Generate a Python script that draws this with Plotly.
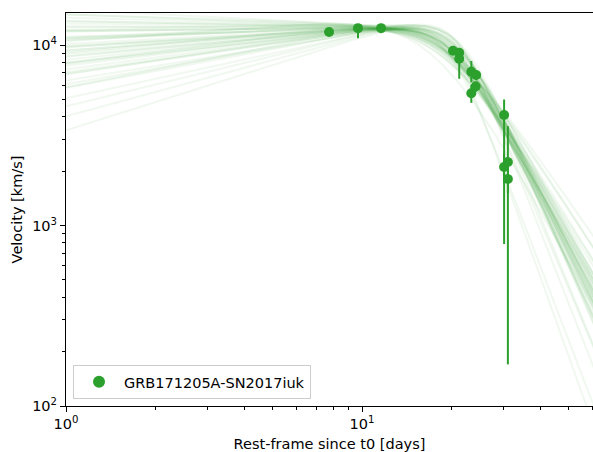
import numpy as np
import plotly.graph_objects as go

GREEN = "#2ca02c"

# Observed line velocities (rest-frame days since t0, km/s) with asymmetric errors
days = [7.74, 9.69, 11.6, 20.3, 21.3, 21.3, 23.4, 24.3, 24.2, 23.4, 30.2, 31.1, 30.2, 31.1]
velocity = [11800, 12400, 12400, 9300, 9050, 8400, 7110, 6820, 5890, 5400, 4090, 2250, 2110, 1810]
err_low = [300, 1500, 300, 300, 300, 1900, 900, 400, 400, 620, 3300, 2080, 400, 300]
err_high = [300, 400, 300, 300, 300, 300, 1050, 400, 400, 600, 900, 1300, 400, 300]

# Posterior draws of a smoothly broken power law:
#   v(t) = A (t/tb)^a1 [1 + (t/tb)^s]^(-(a1+a2)/s), normalised so v(12 d) = v12
draw_a1 = [-0.08, -0.06, -0.05, -0.04, -0.03, -0.02, 0.00, 0.01, 0.02, 0.03,
           0.04, 0.05, 0.06, 0.07, 0.08, 0.09, 0.10, 0.11, 0.12, 0.13,
           0.14, 0.15, 0.16, 0.17, 0.18, 0.19, 0.20, 0.21, 0.22, 0.23,
           0.24, 0.25, 0.27, 0.29, 0.31, 0.33, 0.36, 0.40, 0.45, 0.52,
           0.02, 0.10, 0.15, -0.01, 0.08, 0.12]
draw_a2 = [3.0, 3.3, 2.9, 3.5, 3.1, 2.8, 3.2, 3.6, 3.0, 3.4,
           2.7, 3.2, 3.9, 3.1, 2.6, 3.3, 3.0, 4.0, 3.2, 2.9,
           3.5, 3.1, 2.8, 3.4, 3.0, 4.2, 3.2, 2.7, 3.3, 3.0,
           3.7, 3.1, 2.9, 3.4, 3.2, 2.6, 3.0, 3.5, 3.1, 3.3,
           4.6, 4.3, 2.4, 2.5, 3.8, 3.0]
draw_tb = [20, 20.5, 19.5, 21, 20, 19, 20, 21.5, 19.5, 20.5,
           19, 20, 21, 20, 18.5, 20.5, 19.5, 21.5, 20, 19.5,
           20.5, 20, 19, 21, 20, 21, 20, 19, 20.5, 19.5,
           21, 20, 19.5, 20.5, 20, 19, 20, 20.5, 20, 20,
           20, 19.5, 19, 19.5, 22, 17.5]
draw_s = [6, 6, 5, 7, 6, 5, 6, 8, 6, 6,
          4, 7, 8, 5, 4, 6, 6, 9, 6, 5,
          7, 6, 5, 7, 6, 10, 6, 4, 6, 6,
          8, 5, 6, 7, 6, 4, 6, 7, 6, 6,
          10, 8, 4, 5, 8, 4]
draw_v12 = [12600, 12500, 12400, 12700, 12300, 12200, 12400, 12800, 12300, 12500,
            12100, 12400, 12600, 12200, 12000, 12400, 12300, 12700, 12300, 12200,
            12500, 12300, 12100, 12500, 12200, 12600, 12300, 12000, 12400, 12200,
            12500, 12200, 12100, 12300, 12200, 11900, 12100, 12200, 12000, 11900,
            12500, 12400, 12000, 12300, 12900, 12100]


def broken_power_law(t, a1, a2, tb, s):
    r = t / tb
    return r ** a1 * (1.0 + r ** s) ** (-(a1 + a2) / s)


t_grid = np.logspace(0, np.log10(65), 300)

fig = go.Figure()

for a1, a2, tb, s, v12 in zip(draw_a1, draw_a2, draw_tb, draw_s, draw_v12):
    amp = v12 / broken_power_law(12.0, a1, a2, tb, s)
    fig.add_trace(go.Scatter(
        x=t_grid, y=amp * broken_power_law(t_grid, a1, a2, tb, s),
        mode="lines", line=dict(color="rgba(44,160,44,0.07)", width=2),
        showlegend=False, hoverinfo="skip",
    ))

fig.add_trace(go.Scatter(
    x=days, y=velocity, mode="markers", name="GRB171205A-SN2017iuk",
    marker=dict(color=GREEN, size=10),
    error_y=dict(type="data", symmetric=False, array=err_high, arrayminus=err_low,
                 color=GREEN, thickness=2, width=0),
))

font = dict(family="DejaVu Sans", size=14.5, color="black")

x_minor = [2, 3, 4, 5, 6, 7, 8, 9, 20, 30, 40, 50, 60]
y_minor = [200, 300, 400, 500, 600, 700, 800, 900, 2000, 3000, 4000, 5000, 6000, 7000, 8000, 9000]

fig.update_layout(
    width=593, height=452,
    margin=dict(l=66, r=0, t=13, b=46),
    paper_bgcolor="white", plot_bgcolor="white",
    font=font,
    showlegend=True,
    legend=dict(
        x=0.0133, y=0.018, xanchor="left", yanchor="bottom",
        bgcolor="rgba(255,255,255,0.8)", bordercolor="#cccccc", borderwidth=1,
        font=dict(family="DejaVu Sans", size=14.5), itemsizing="constant",
        itemwidth=40,
    ),
    xaxis=dict(
        type="log", range=[0, np.log10(60.3)],
        tickvals=[1, 10], ticktext=["10<sup>0</sup>", "10<sup>1</sup>"],
        ticks="outside", ticklen=5, tickwidth=1.1, tickcolor="black",
        showline=True, linecolor="black", linewidth=1.1, mirror=True,
        showgrid=False, zeroline=False,
        minor=dict(tickvals=x_minor, ticks="outside", ticklen=3, tickwidth=0.8,
                   tickcolor="black", showgrid=False),
        title=dict(text="Rest-frame since t0 [days]", font=font, standoff=7),
    ),
    yaxis=dict(
        type="log", range=[2, 2 + 393 / 180.5],
        tickvals=[100, 1000, 10000],
        ticktext=["10<sup>2</sup>", "10<sup>3</sup>", "10<sup>4</sup>"],
        ticks="outside", ticklen=5, tickwidth=1.1, tickcolor="black",
        showline=True, linecolor="black", linewidth=1.1, mirror=False,
        showgrid=False, zeroline=False,
        minor=dict(tickvals=y_minor, ticks="outside", ticklen=3, tickwidth=0.8,
                   tickcolor="black", showgrid=False),
        title=dict(text="Velocity [km/s]", font=font, standoff=6),
    ),
)

fig.write_html("out.html")
